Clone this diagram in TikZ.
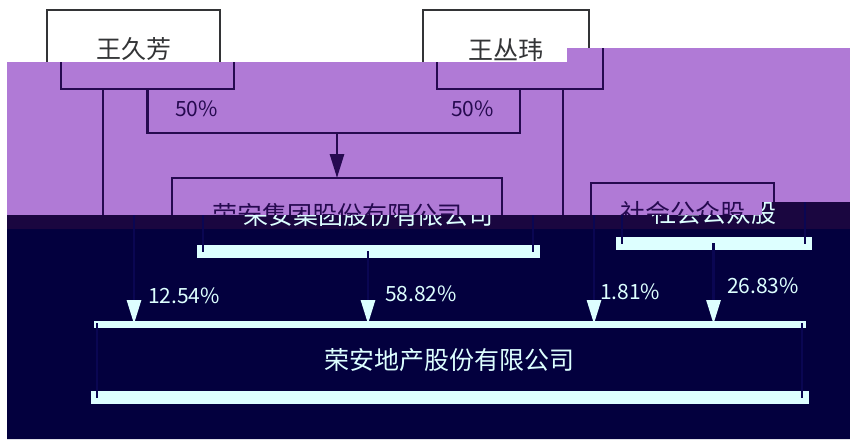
\documentclass[tikz,border=0pt]{standalone}
\usepackage{fontspec}
\setmainfont{Noto Sans CJK SC}
\usetikzlibrary{arrows.meta,calc}
\definecolor{bgpurple}{HTML}{B07AD6}
\definecolor{bgnavy}{HTML}{03003E}
\definecolor{bgband}{HTML}{1A0640}
\definecolor{inkgray}{HTML}{333436}
\definecolor{inkindigo}{HTML}{260A50}
\definecolor{inkcyan}{HTML}{DDFFFF}
\definecolor{inkdim}{HTML}{0A0652}
\tikzset{
  lbl/.style={inner sep=0pt, outer sep=0pt, font=\fontsize{25pt}{30pt}\selectfont},
  pct/.style={inner sep=0pt, outer sep=0pt, font=\fontsize{21pt}{25pt}\selectfont},
}
% #1 x shift, #2 horizontal colour (and arrow tips), #3 vertical colour,
% #4 text colour, #5 band index (0 top, 1 middle, 2 bottom),
% #6 width of top edges, #7 width of bottom edges
\newcommand{\orgchart}[7]{%
\begin{scope}[xshift=#1pt, text=#4,
  edgeN/.style={draw=#2, line width=#6pt, line cap=rect},
  edgeS/.style={draw=#2, line width=#7pt, line cap=rect},
  edgeV/.style={draw=#3, line width=2.8pt, line cap=rect},
  conn/.style={draw=#3, line width=2.8pt},
  arrowend/.style={-{Triangle[length=24pt,width=14pt,color=#2]}}]
  \node[lbl, minimum width=173pt, minimum height=79pt] (wjf) at (133.5,49.5) {\ifnum#5=0 王久芳\fi};
  \node[lbl, minimum width=166pt, minimum height=79pt] (wcw) at (506,49.5) {\ifnum#5=0 王丛玮\fi};
  \node[lbl, minimum width=330pt, minimum height=73pt] (grp) at (323,214.5) {\ifnum#5>0 荣安集团股份有限公司\fi};
  \node[lbl, minimum width=183pt, minimum height=60pt] (pub) at (668.5,213) {\ifnum#5>0 社会公众股\fi};
  \node[lbl, minimum width=705pt, minimum height=73pt] (ra) at (404.5,360.5) {\ifnum#5=2 荣安地产股份有限公司\fi};
  \ifnum#5=1
    \node[pct] (s1) at (182.5,109) {50\%};
    \node[pct] (s2) at (458.5,109) {50\%};
  \fi
  \ifnum#5=2
    \node[pct, anchor=west] (p1) at (103,296) {12.54\%};
    \node[pct, anchor=west] (p2) at (340,294) {58.82\%};
    \node[pct, anchor=west] (p3) at (555,292) {1.81\%};
    \node[pct, anchor=west] (p4) at (682,286) {26.83\%};
  \fi
  \foreach \b in {wjf,wcw,grp,pub,ra} {
    \draw[edgeN] (\b.north west) -- (\b.north east);
    \draw[edgeS] (\b.south west) -- (\b.south east);
    \draw[edgeV] (\b.north west) -- (\b.south west);
    \draw[edgeV] (\b.north east) -- (\b.south east);
  }
  \coordinate (jn) at ($(grp.north)+(0,-45)$);
  \draw[conn] (wjf.south) |- (jn) -| (wcw.south);
  \draw[conn, arrowend] (jn) -- (grp.north);
  \draw[conn, arrowend] ([xshift=-44.5pt]wjf.south) -- ([xshift=-44.5pt]wjf.south |- ra.north);
  \draw[conn, arrowend] (grp.south) -- (grp.south |- ra.north);
  \draw[conn, arrowend] ([xshift=43pt]wcw.south) -- ([xshift=43pt]wcw.south |- ra.north);
  \draw[conn, arrowend] (pub.south) -- (pub.south |- ra.north);
\end{scope}}
\begin{document}
\begin{tikzpicture}[x=1pt, y=-1pt]
  \useasboundingbox (0,0) rectangle (850,439);
  \fill[white] (0,0) rectangle (850,439);
  % clean upper strip
  \orgchart{0}{inkgray}{inkgray}{inkgray}{0}{2.8}{2.8}
  % purple band
  \fill[bgpurple] (7,62) -- (567,62) -- (567,48) -- (850,48) -- (850,202) -- (762,202) -- (762,215) -- (7,215) -- cycle;
  \begin{scope}
    \clip (7,62) -- (567,62) -- (567,48) -- (850,48) -- (850,202) -- (762,202) -- (762,215) -- (7,215) -- cycle;
    \orgchart{14}{inkindigo}{inkindigo}{inkindigo}{1}{2.8}{2.8}
  \end{scope}
  % navy band
  \fill[bgnavy] (7,215) -- (762,215) -- (762,202) -- (850,202) -- (850,439) -- (7,439) -- cycle;
  \fill[bgband] (7,215) rectangle (850,229);
  \fill[bgband] (762,202) rectangle (850,215);
  \begin{scope}
    \clip (7,215) -- (762,215) -- (762,202) -- (850,202) -- (850,439) -- (7,439) -- cycle;
    \orgchart{45}{inkcyan}{inkdim}{inkcyan}{2}{7}{13}
  \end{scope}
\end{tikzpicture}
\end{document}
